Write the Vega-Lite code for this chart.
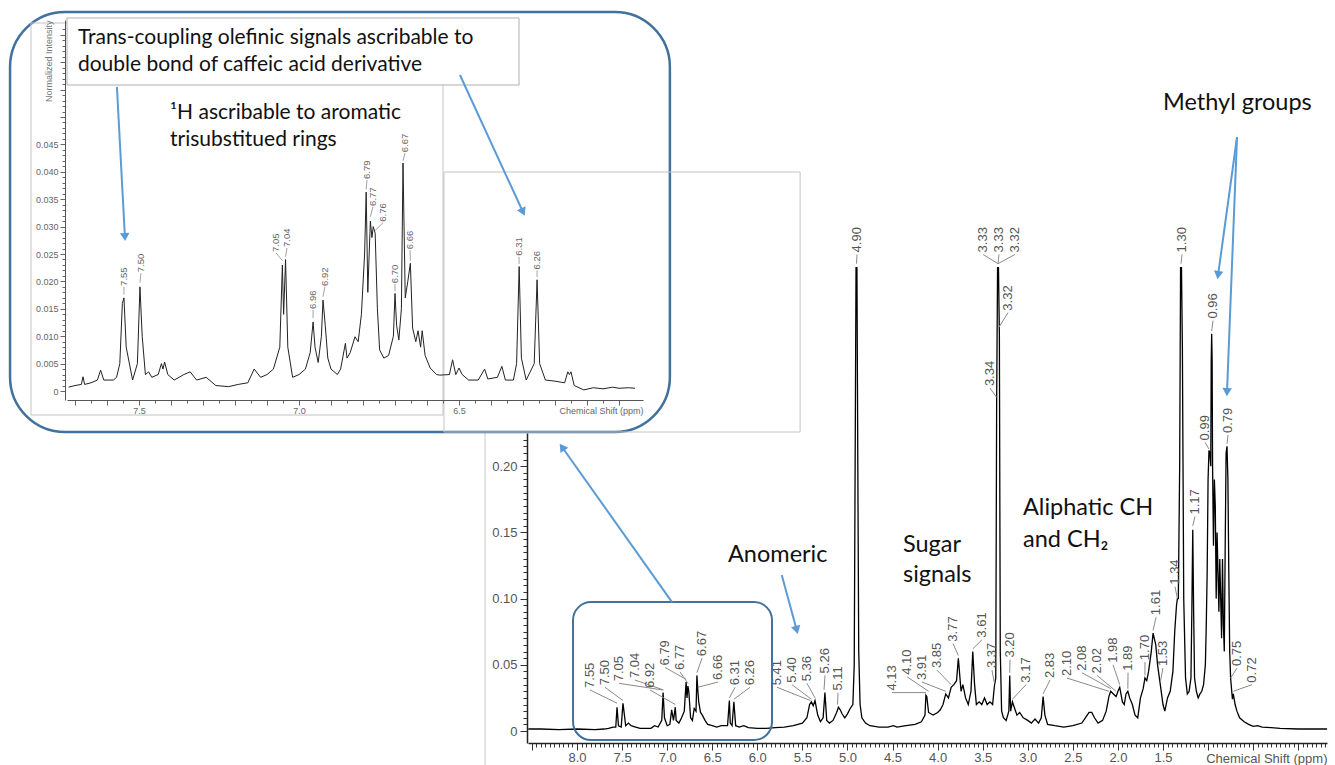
{
"$schema": "https://vega.github.io/schema/vega-lite/v6.json",
"width": 1335, "height": 765, "autosize": {"type": "none"}, "padding": 0, "background": "white",
"config": {"view": {"stroke": null}, "axis": {"grid": false, "labelFont": "Liberation Sans", "titleFont": "Liberation Sans", "labelOverlap": false, "labelFlush": false, "labelBound": false}},
"datasets": {
"main": [
{"ppm":-0.32,"i":0.0015},{"ppm":0.0,"i":0.0015},{"ppm":0.2,"i":0.002},{"ppm":0.3,"i":0.0025},{"ppm":0.4,"i":0.003},{"ppm":0.45,"i":0.004},{"ppm":0.5,"i":0.0035},{"ppm":0.55,"i":0.005},{"ppm":0.6,"i":0.007},{"ppm":0.65,"i":0.01},{"ppm":0.68,"i":0.015},{"ppm":0.7,"i":0.02},{"ppm":0.72,"i":0.028},{"ppm":0.73,"i":0.024},{"ppm":0.75,"i":0.04},{"ppm":0.76,"i":0.06},{"ppm":0.77,"i":0.12},{"ppm":0.78,"i":0.19},{"ppm":0.79,"i":0.215},{"ppm":0.8,"i":0.21},{"ppm":0.81,"i":0.14},{"ppm":0.82,"i":0.06},{"ppm":0.83,"i":0.08},{"ppm":0.84,"i":0.13},{"ppm":0.85,"i":0.07},{"ppm":0.86,"i":0.1},{"ppm":0.87,"i":0.13},{"ppm":0.88,"i":0.09},{"ppm":0.89,"i":0.12},{"ppm":0.9,"i":0.15},{"ppm":0.91,"i":0.1},{"ppm":0.92,"i":0.17},{"ppm":0.93,"i":0.19},{"ppm":0.94,"i":0.14},{"ppm":0.95,"i":0.2},{"ppm":0.955,"i":0.28},{"ppm":0.96,"i":0.3},{"ppm":0.965,"i":0.28},{"ppm":0.97,"i":0.2},{"ppm":0.98,"i":0.21},{"ppm":0.99,"i":0.212},{"ppm":1.0,"i":0.19},{"ppm":1.01,"i":0.12},{"ppm":1.02,"i":0.08},{"ppm":1.03,"i":0.05},{"ppm":1.05,"i":0.035},{"ppm":1.07,"i":0.03},{"ppm":1.09,"i":0.028},{"ppm":1.11,"i":0.025},{"ppm":1.13,"i":0.03},{"ppm":1.15,"i":0.04},{"ppm":1.16,"i":0.09},{"ppm":1.17,"i":0.152},{"ppm":1.18,"i":0.09},{"ppm":1.19,"i":0.04},{"ppm":1.21,"i":0.03},{"ppm":1.23,"i":0.028},{"ppm":1.25,"i":0.04},{"ppm":1.27,"i":0.1},{"ppm":1.285,"i":0.29},{"ppm":1.295,"i":0.35},{"ppm":1.305,"i":0.35},{"ppm":1.315,"i":0.2},{"ppm":1.33,"i":0.1},{"ppm":1.34,"i":0.1},{"ppm":1.35,"i":0.095},{"ppm":1.37,"i":0.075},{"ppm":1.39,"i":0.045},{"ppm":1.42,"i":0.03},{"ppm":1.45,"i":0.025},{"ppm":1.48,"i":0.015},{"ppm":1.5,"i":0.02},{"ppm":1.53,"i":0.035},{"ppm":1.56,"i":0.05},{"ppm":1.58,"i":0.065},{"ppm":1.61,"i":0.074},{"ppm":1.63,"i":0.06},{"ppm":1.66,"i":0.045},{"ppm":1.68,"i":0.038},{"ppm":1.7,"i":0.04},{"ppm":1.72,"i":0.032},{"ppm":1.75,"i":0.025},{"ppm":1.78,"i":0.01},{"ppm":1.81,"i":0.012},{"ppm":1.84,"i":0.02},{"ppm":1.87,"i":0.025},{"ppm":1.89,"i":0.03},{"ppm":1.91,"i":0.028},{"ppm":1.93,"i":0.02},{"ppm":1.95,"i":0.022},{"ppm":1.98,"i":0.033},{"ppm":2.0,"i":0.03},{"ppm":2.02,"i":0.026},{"ppm":2.05,"i":0.028},{"ppm":2.08,"i":0.03},{"ppm":2.1,"i":0.026},{"ppm":2.13,"i":0.015},{"ppm":2.17,"i":0.008},{"ppm":2.22,"i":0.006},{"ppm":2.26,"i":0.01},{"ppm":2.29,"i":0.014},{"ppm":2.32,"i":0.014},{"ppm":2.35,"i":0.011},{"ppm":2.4,"i":0.006},{"ppm":2.5,"i":0.004},{"ppm":2.6,"i":0.003},{"ppm":2.7,"i":0.004},{"ppm":2.78,"i":0.005},{"ppm":2.81,"i":0.012},{"ppm":2.83,"i":0.026},{"ppm":2.85,"i":0.01},{"ppm":2.88,"i":0.006},{"ppm":2.92,"i":0.009},{"ppm":2.96,"i":0.006},{"ppm":3.0,"i":0.008},{"ppm":3.05,"i":0.01},{"ppm":3.09,"i":0.014},{"ppm":3.12,"i":0.012},{"ppm":3.15,"i":0.018},{"ppm":3.17,"i":0.022},{"ppm":3.19,"i":0.015},{"ppm":3.2,"i":0.042},{"ppm":3.21,"i":0.015},{"ppm":3.24,"i":0.008},{"ppm":3.27,"i":0.01},{"ppm":3.29,"i":0.015},{"ppm":3.305,"i":0.06},{"ppm":3.315,"i":0.3},{"ppm":3.325,"i":0.35},{"ppm":3.335,"i":0.35},{"ppm":3.345,"i":0.25},{"ppm":3.355,"i":0.04},{"ppm":3.37,"i":0.034},{"ppm":3.39,"i":0.02},{"ppm":3.42,"i":0.022},{"ppm":3.45,"i":0.02},{"ppm":3.48,"i":0.025},{"ppm":3.51,"i":0.02},{"ppm":3.54,"i":0.022},{"ppm":3.57,"i":0.02},{"ppm":3.59,"i":0.035},{"ppm":3.61,"i":0.06},{"ppm":3.63,"i":0.03},{"ppm":3.66,"i":0.02},{"ppm":3.69,"i":0.025},{"ppm":3.72,"i":0.035},{"ppm":3.74,"i":0.03},{"ppm":3.77,"i":0.055},{"ppm":3.79,"i":0.038},{"ppm":3.82,"i":0.035},{"ppm":3.85,"i":0.033},{"ppm":3.88,"i":0.025},{"ppm":3.91,"i":0.028},{"ppm":3.94,"i":0.02},{"ppm":3.97,"i":0.016},{"ppm":4.0,"i":0.014},{"ppm":4.05,"i":0.012},{"ppm":4.1,"i":0.014},{"ppm":4.12,"i":0.026},{"ppm":4.13,"i":0.027},{"ppm":4.14,"i":0.012},{"ppm":4.18,"i":0.007},{"ppm":4.25,"i":0.005},{"ppm":4.35,"i":0.004},{"ppm":4.45,"i":0.003},{"ppm":4.49,"i":0.004},{"ppm":4.55,"i":0.003},{"ppm":4.65,"i":0.003},{"ppm":4.75,"i":0.004},{"ppm":4.8,"i":0.006},{"ppm":4.84,"i":0.01},{"ppm":4.86,"i":0.02},{"ppm":4.875,"i":0.06},{"ppm":4.885,"i":0.2},{"ppm":4.895,"i":0.35},{"ppm":4.905,"i":0.35},{"ppm":4.915,"i":0.2},{"ppm":4.925,"i":0.05},{"ppm":4.94,"i":0.02},{"ppm":4.97,"i":0.017},{"ppm":5.0,"i":0.013},{"ppm":5.03,"i":0.01},{"ppm":5.06,"i":0.013},{"ppm":5.08,"i":0.016},{"ppm":5.1,"i":0.018},{"ppm":5.12,"i":0.014},{"ppm":5.16,"i":0.008},{"ppm":5.2,"i":0.006},{"ppm":5.23,"i":0.008},{"ppm":5.25,"i":0.029},{"ppm":5.27,"i":0.01},{"ppm":5.3,"i":0.007},{"ppm":5.33,"i":0.012},{"ppm":5.36,"i":0.023},{"ppm":5.38,"i":0.019},{"ppm":5.4,"i":0.022},{"ppm":5.42,"i":0.02},{"ppm":5.45,"i":0.01},{"ppm":5.5,"i":0.006},{"ppm":5.55,"i":0.005},{"ppm":5.6,"i":0.004},{"ppm":5.7,"i":0.003},{"ppm":5.8,"i":0.0025},{"ppm":5.9,"i":0.002},{"ppm":6.0,"i":0.002},{"ppm":6.1,"i":0.0025},{"ppm":6.15,"i":0.004},{"ppm":6.2,"i":0.003},{"ppm":6.24,"i":0.004},{"ppm":6.26,"i":0.022},{"ppm":6.28,"i":0.004},{"ppm":6.3,"i":0.006},{"ppm":6.31,"i":0.023},{"ppm":6.33,"i":0.004},{"ppm":6.4,"i":0.004},{"ppm":6.45,"i":0.003},{"ppm":6.5,"i":0.004},{"ppm":6.55,"i":0.005},{"ppm":6.58,"i":0.008},{"ppm":6.61,"i":0.012},{"ppm":6.63,"i":0.014},{"ppm":6.65,"i":0.022},{"ppm":6.66,"i":0.031},{"ppm":6.67,"i":0.042},{"ppm":6.68,"i":0.015},{"ppm":6.7,"i":0.017},{"ppm":6.72,"i":0.008},{"ppm":6.74,"i":0.01},{"ppm":6.76,"i":0.03},{"ppm":6.77,"i":0.034},{"ppm":6.78,"i":0.025},{"ppm":6.79,"i":0.037},{"ppm":6.81,"i":0.015},{"ppm":6.84,"i":0.01},{"ppm":6.87,"i":0.006},{"ppm":6.9,"i":0.008},{"ppm":6.91,"i":0.018},{"ppm":6.93,"i":0.008},{"ppm":6.95,"i":0.016},{"ppm":6.97,"i":0.005},{"ppm":7.0,"i":0.004},{"ppm":7.03,"i":0.01},{"ppm":7.045,"i":0.029},{"ppm":7.06,"i":0.008},{"ppm":7.1,"i":0.003},{"ppm":7.14,"i":0.004},{"ppm":7.18,"i":0.002},{"ppm":7.25,"i":0.002},{"ppm":7.3,"i":0.002},{"ppm":7.35,"i":0.003},{"ppm":7.4,"i":0.004},{"ppm":7.43,"i":0.006},{"ppm":7.46,"i":0.004},{"ppm":7.49,"i":0.021},{"ppm":7.51,"i":0.003},{"ppm":7.54,"i":0.004},{"ppm":7.556,"i":0.018},{"ppm":7.57,"i":0.003},{"ppm":7.6,"i":0.003},{"ppm":7.65,"i":0.002},{"ppm":7.7,"i":0.0015},{"ppm":7.8,"i":0.001},{"ppm":8.0,"i":0.0015},{"ppm":8.2,"i":0.001},{"ppm":8.4,"i":0.0015},{"ppm":8.54,"i":0.0015}
],
"inset": [
{"ppm":7.72,"i":0.0007},{"ppm":7.7,"i":0.001},{"ppm":7.68,"i":0.0012},{"ppm":7.675,"i":0.0026},{"ppm":7.67,"i":0.0012},{"ppm":7.65,"i":0.0015},{"ppm":7.63,"i":0.002},{"ppm":7.62,"i":0.0038},{"ppm":7.61,"i":0.002},{"ppm":7.58,"i":0.002},{"ppm":7.57,"i":0.0025},{"ppm":7.56,"i":0.005},{"ppm":7.552,"i":0.016},{"ppm":7.547,"i":0.017},{"ppm":7.54,"i":0.008},{"ppm":7.52,"i":0.002},{"ppm":7.505,"i":0.005},{"ppm":7.497,"i":0.019},{"ppm":7.49,"i":0.01},{"ppm":7.48,"i":0.003},{"ppm":7.47,"i":0.0035},{"ppm":7.46,"i":0.0025},{"ppm":7.44,"i":0.003},{"ppm":7.43,"i":0.005},{"ppm":7.425,"i":0.004},{"ppm":7.42,"i":0.0053},{"ppm":7.41,"i":0.003},{"ppm":7.39,"i":0.002},{"ppm":7.36,"i":0.003},{"ppm":7.34,"i":0.0035},{"ppm":7.32,"i":0.002},{"ppm":7.29,"i":0.0025},{"ppm":7.26,"i":0.001},{"ppm":7.22,"i":0.0008},{"ppm":7.19,"i":0.0012},{"ppm":7.16,"i":0.0015},{"ppm":7.14,"i":0.004},{"ppm":7.12,"i":0.0025},{"ppm":7.1,"i":0.003},{"ppm":7.08,"i":0.004},{"ppm":7.06,"i":0.008},{"ppm":7.052,"i":0.023},{"ppm":7.048,"i":0.014},{"ppm":7.042,"i":0.024},{"ppm":7.035,"i":0.008},{"ppm":7.02,"i":0.0025},{"ppm":7.0,"i":0.003},{"ppm":6.98,"i":0.004},{"ppm":6.965,"i":0.007},{"ppm":6.956,"i":0.0126},{"ppm":6.95,"i":0.008},{"ppm":6.94,"i":0.0052},{"ppm":6.93,"i":0.01},{"ppm":6.925,"i":0.0166},{"ppm":6.918,"i":0.012},{"ppm":6.91,"i":0.006},{"ppm":6.9,"i":0.004},{"ppm":6.88,"i":0.003},{"ppm":6.87,"i":0.004},{"ppm":6.855,"i":0.0087},{"ppm":6.85,"i":0.006},{"ppm":6.84,"i":0.007},{"ppm":6.825,"i":0.0099},{"ppm":6.815,"i":0.009},{"ppm":6.805,"i":0.014},{"ppm":6.795,"i":0.025},{"ppm":6.79,"i":0.0363},{"ppm":6.785,"i":0.018},{"ppm":6.777,"i":0.031},{"ppm":6.772,"i":0.028},{"ppm":6.768,"i":0.03},{"ppm":6.762,"i":0.0288},{"ppm":6.755,"i":0.015},{"ppm":6.748,"i":0.0075},{"ppm":6.735,"i":0.006},{"ppm":6.72,"i":0.0065},{"ppm":6.705,"i":0.01},{"ppm":6.7,"i":0.0178},{"ppm":6.695,"i":0.012},{"ppm":6.688,"i":0.0093},{"ppm":6.68,"i":0.015},{"ppm":6.675,"i":0.0416},{"ppm":6.668,"i":0.017},{"ppm":6.66,"i":0.02},{"ppm":6.652,"i":0.0233},{"ppm":6.645,"i":0.0115},{"ppm":6.635,"i":0.009},{"ppm":6.628,"i":0.011},{"ppm":6.62,"i":0.008},{"ppm":6.615,"i":0.011},{"ppm":6.606,"i":0.0065},{"ppm":6.59,"i":0.0042},{"ppm":6.57,"i":0.003},{"ppm":6.56,"i":0.0029},{"ppm":6.53,"i":0.003},{"ppm":6.52,"i":0.0057},{"ppm":6.51,"i":0.003},{"ppm":6.5,"i":0.0042},{"ppm":6.49,"i":0.003},{"ppm":6.47,"i":0.002},{"ppm":6.44,"i":0.002},{"ppm":6.42,"i":0.004},{"ppm":6.41,"i":0.0022},{"ppm":6.38,"i":0.0025},{"ppm":6.366,"i":0.0045},{"ppm":6.355,"i":0.002},{"ppm":6.33,"i":0.002},{"ppm":6.32,"i":0.005},{"ppm":6.312,"i":0.0227},{"ppm":6.305,"i":0.006},{"ppm":6.29,"i":0.002},{"ppm":6.265,"i":0.005},{"ppm":6.256,"i":0.0203},{"ppm":6.248,"i":0.005},{"ppm":6.23,"i":0.002},{"ppm":6.2,"i":0.0018},{"ppm":6.17,"i":0.0015},{"ppm":6.16,"i":0.0035},{"ppm":6.155,"i":0.003},{"ppm":6.15,"i":0.0035},{"ppm":6.14,"i":0.001},{"ppm":6.11,"i":0.0002},{"ppm":6.08,"i":0.0006},{"ppm":6.05,"i":0.0004},{"ppm":6.02,"i":0.0007},{"ppm":6.0,"i":0.0005},{"ppm":5.97,"i":0.0006},{"ppm":5.95,"i":0.0005}
],
"mlab": [
{"t":"7.55","lx":7.856,"ly":0.031,"px":7.556,"py":0.021},
{"t":"7.50","lx":7.689,"ly":0.033,"px":7.49,"py":0.023},
{"t":"7.05","lx":7.534,"ly":0.036,"px":7.05,"py":0.031},
{"t":"7.04","lx":7.357,"ly":0.0385,"px":7.04,"py":0.031},
{"t":"6.92","lx":7.19,"ly":0.031,"px":6.91,"py":0.02},
{"t":"6.79","lx":7.024,"ly":0.048,"px":6.79,"py":0.039},
{"t":"6.77","lx":6.857,"ly":0.0446,"px":6.77,"py":0.036},
{"t":"6.67","lx":6.613,"ly":0.055,"px":6.67,"py":0.044},
{"t":"6.66","lx":6.436,"ly":0.037,"px":6.66,"py":0.033},
{"t":"6.31","lx":6.247,"ly":0.033,"px":6.31,"py":0.025},
{"t":"6.26","lx":6.081,"ly":0.033,"px":6.26,"py":0.024},
{"t":"5.41","lx":5.781,"ly":0.033,"px":5.41,"py":0.023},
{"t":"5.40","lx":5.615,"ly":0.035,"px":5.4,"py":0.024},
{"t":"5.36","lx":5.449,"ly":0.036,"px":5.36,"py":0.025},
{"t":"5.26","lx":5.249,"ly":0.042,"px":5.26,"py":0.031},
{"t":"5.11","lx":5.105,"ly":0.029,"px":5.11,"py":0.02},
{"t":"4.13","lx":4.506,"ly":0.029,"px":4.13,"py":0.029},
{"t":"4.10","lx":4.34,"ly":0.041,"px":4.1,"py":0.03},
{"t":"3.91","lx":4.173,"ly":0.037,"px":3.91,"py":0.03},
{"t":"3.85","lx":4.007,"ly":0.046,"px":3.85,"py":0.035},
{"t":"3.77","lx":3.829,"ly":0.066,"px":3.77,"py":0.057},
{"t":"3.61","lx":3.507,"ly":0.069,"px":3.61,"py":0.062},
{"t":"3.37","lx":3.397,"ly":0.046,"px":3.37,"py":0.036},
{"t":"3.20","lx":3.197,"ly":0.054,"px":3.2,"py":0.044},
{"t":"3.17","lx":3.02,"ly":0.035,"px":3.17,"py":0.024},
{"t":"2.83","lx":2.753,"ly":0.0385,"px":2.83,"py":0.028},
{"t":"2.10","lx":2.565,"ly":0.04,"px":2.1,"py":0.03},
{"t":"2.08","lx":2.398,"ly":0.044,"px":2.08,"py":0.032},
{"t":"2.02","lx":2.232,"ly":0.042,"px":2.02,"py":0.03},
{"t":"1.98","lx":2.054,"ly":0.05,"px":1.98,"py":0.035},
{"t":"1.89","lx":1.888,"ly":0.044,"px":1.89,"py":0.032},
{"t":"1.70","lx":1.7,"ly":0.052,"px":1.7,"py":0.042},
{"t":"1.61","lx":1.577,"ly":0.086,"px":1.61,"py":0.076},
{"t":"1.53","lx":1.5,"ly":0.0476,"px":1.53,"py":0.037},
{"t":"1.34","lx":1.367,"ly":0.109,"px":1.34,"py":0.1},
{"t":"1.17","lx":1.145,"ly":0.162,"px":1.17,"py":0.155},
{"t":"0.99","lx":1.034,"ly":0.218,"px":0.99,"py":0.213},
{"t":"0.96","lx":0.945,"ly":0.31,"px":0.96,"py":0.302},
{"t":"0.79","lx":0.779,"ly":0.2236,"px":0.79,"py":0.217},
{"t":"0.75","lx":0.679,"ly":0.0476,"px":0.75,"py":0.04},
{"t":"0.72","lx":0.5125,"ly":0.035,"px":0.72,"py":0.03},
{"t":"4.90","lx":4.894,"ly":0.36,"px":4.9,"py":0.353},
{"t":"3.33","lx":3.496,"ly":0.36,"px":3.33,"py":0.353},
{"t":"3.33","lx":3.319,"ly":0.36,"px":3.33,"py":0.353},
{"t":"3.32","lx":3.141,"ly":0.36,"px":3.33,"py":0.353},
{"t":"3.32","lx":3.219,"ly":0.316,"px":3.32,"py":0.305},
{"t":"3.34","lx":3.419,"ly":0.259,"px":3.345,"py":0.252},
{"t":"1.30","lx":1.289,"ly":0.36,"px":1.3,"py":0.353}
],
"ilab": [
{"t":"7.55","lx":7.547,"ly":0.019,"px":7.547,"py":0.0176},
{"t":"7.50","lx":7.494,"ly":0.0215,"px":7.497,"py":0.0198},
{"t":"7.05","lx":7.072,"ly":0.0252,"px":7.052,"py":0.0238},
{"t":"7.04","lx":7.0375,"ly":0.0261,"px":7.042,"py":0.0245},
{"t":"6.96","lx":6.956,"ly":0.0148,"px":6.956,"py":0.0133},
{"t":"6.92","lx":6.919,"ly":0.019,"px":6.925,"py":0.0172},
{"t":"6.79","lx":6.7875,"ly":0.0385,"px":6.79,"py":0.0368},
{"t":"6.77","lx":6.769,"ly":0.0336,"px":6.777,"py":0.0318},
{"t":"6.76","lx":6.7375,"ly":0.0307,"px":6.762,"py":0.0293},
{"t":"6.70","lx":6.7,"ly":0.0195,"px":6.7,"py":0.0182},
{"t":"6.67","lx":6.669,"ly":0.0434,"px":6.675,"py":0.042},
{"t":"6.66","lx":6.653,"ly":0.0257,"px":6.652,"py":0.0238},
{"t":"6.31","lx":6.3125,"ly":0.0245,"px":6.312,"py":0.0232},
{"t":"6.26","lx":6.256,"ly":0.022,"px":6.256,"py":0.0208}
],
"mtext": [
{"t":"Anomeric","x":6.325,"y":0.1329},
{"t":"Sugar","x":4.384,"y":0.1405},
{"t":"signals","x":4.384,"y":0.1178},
{"t":"Aliphatic CH","x":3.053,"y":0.1684},
{"t":"and CH₂","x":3.053,"y":0.1443},
{"t":"Methyl groups","x":1.5,"y":0.4743}
],
"itext": [
{"t":"Trans-coupling olefinic signals ascribable to","x":7.691,"y":0.06442},
{"t":"double bond of caffeic acid derivative","x":7.691,"y":0.05949},
{"t":"¹H ascribable to aromatic","x":7.403,"y":0.05073},
{"t":"trisubstitued rings","x":7.403,"y":0.0458}
],
"marrow": [
{"id":"a1","x1":6.946,"y1":0.0974,"x2":8.166,"y2":0.2145},
{"id":"a2","x1":5.729,"y1":0.1178,"x2":5.563,"y2":0.0763},
{"id":"a3","x1":0.679,"y1":0.4486,"x2":0.889,"y2":0.3444},
{"id":"a4","x1":0.679,"y1":0.4486,"x2":0.79,"y2":0.256}
],
"iarrow": [
{"id":"b1","x1":7.569,"y1":0.05547,"x2":7.544,"y2":0.0281},
{"id":"b2","x1":6.497,"y1":0.05766,"x2":6.3,"y2":0.03266}
],
"ibox": [
{"k":"round","x1":7.903,"x2":5.841,"y1":0.06916,"y2":-0.00748},
{"k":"frame","x1":7.8375,"x2":6.55,"y1":0.06715,"y2":-0.00438},
{"k":"frame","x1":6.547,"x2":5.434,"y1":0.03996,"y2":-0.00748},
{"k":"tbox","x1":7.725,"x2":6.3125,"y1":0.06807,"y2":0.05584}
],
"mbox": [{"x1":8.044,"x2":5.837,"y1":0.0974,"y2":-0.0068}],
"mframe": [{"x":9.02,"y1":0.2387,"y2":-0.03}]
},
"layer": [
{
"layer": [
{"data": {"name": "main"}, "mark": {"type": "line", "color": "#000", "strokeWidth": 1.3, "interpolate": "linear"},
 "encoding": {
  "x": {"field": "ppm", "type": "quantitative", "scale": {"domain": [8.5436, -0.3192], "range": [528, 1327], "nice": false, "zero": false},
   "axis": {"orient": "bottom", "offset": -22, "title": "Chemical Shift (ppm)", "titleAnchor": "end", "titleAlign": "right", "titleBaseline": "top", "titleY": 9, "titleFontSize": 13, "titleFontWeight": "normal", "titleColor": "#555",
    "tickCount": 1000,
    "values": [8.5,8.45,8.4,8.35,8.3,8.25,8.2,8.15,8.1,8.05,8,7.95,7.9,7.85,7.8,7.75,7.7,7.65,7.6,7.55,7.5,7.45,7.4,7.35,7.3,7.25,7.2,7.15,7.1,7.05,7,6.95,6.9,6.85,6.8,6.75,6.7,6.65,6.6,6.55,6.5,6.45,6.4,6.35,6.3,6.25,6.2,6.15,6.1,6.05,6,5.95,5.9,5.85,5.8,5.75,5.7,5.65,5.6,5.55,5.5,5.45,5.4,5.35,5.3,5.25,5.2,5.15,5.1,5.05,5,4.95,4.9,4.85,4.8,4.75,4.7,4.65,4.6,4.55,4.5,4.45,4.4,4.35,4.3,4.25,4.2,4.15,4.1,4.05,4,3.95,3.9,3.85,3.8,3.75,3.7,3.65,3.6,3.55,3.5,3.45,3.4,3.35,3.3,3.25,3.2,3.15,3.1,3.05,3,2.95,2.9,2.85,2.8,2.75,2.7,2.65,2.6,2.55,2.5,2.45,2.4,2.35,2.3,2.25,2.2,2.15,2.1,2.05,2,1.95,1.9,1.85,1.8,1.75,1.7,1.65,1.6,1.55,1.5,1.45,1.4,1.35,1.3,1.25,1.2,1.15,1.1,1.05,1,0.95,0.9,0.85,0.8,0.75,0.7,0.65,0.6,0.55,0.5,0.45,0.4,0.35,0.3,0.25,0.2,0.15,0.1,0.05,0,-0.05,-0.1,-0.15,-0.2,-0.25,-0.3],
    "labelExpr": "abs(datum.value*2-round(datum.value*2))<0.001 && datum.value>1.4 && datum.value<8.2 ? format(datum.value,'.1f') : ''",
    "tickSize": {"condition": {"test": "abs(datum.value*2-round(datum.value*2))<0.001", "value": 7}, "value": 4},
    "labelFontSize": 13, "labelColor": "#555", "labelPadding": 1, "labelOverlap": false,
    "domainColor": "#222", "domainWidth": 1.5, "tickColor": "#333"}},
  "y": {"field": "i", "type": "quantitative", "scale": {"domain": [-0.00906, 0.2251], "range": [743, 433], "nice": false, "zero": false},
   "axis": {"orient": "left", "offset": -527, "title": null, "tickCount": 1000,
    "values": [0,0.005,0.01,0.015,0.02,0.025,0.03,0.035,0.04,0.045,0.05,0.055,0.06,0.065,0.07,0.075,0.08,0.085,0.09,0.095,0.1,0.105,0.11,0.115,0.12,0.125,0.13,0.135,0.14,0.145,0.15,0.155,0.16,0.165,0.17,0.175,0.18,0.185,0.19,0.195,0.2,0.205,0.21,0.215,0.22],
    "labelExpr": "abs(datum.value*20-round(datum.value*20))<0.001 ? (datum.value==0 ? '0' : format(datum.value,'.2f')) : ''",
    "tickSize": {"condition": {"test": "abs(datum.value*20-round(datum.value*20))<0.001", "value": 7}, "value": 4},
    "labelFontSize": 13, "labelColor": "#555", "labelPadding": 3, "labelOverlap": false,
    "domainColor": "#222", "domainWidth": 1.5, "tickColor": "#333"}}}},
{"data": {"name": "mframe"}, "mark": {"type": "rule", "color": "#c8c8c8", "strokeWidth": 1},
 "encoding": {"x": {"field": "x", "type": "quantitative", "scale": {"domain": [8.5436, -0.3192], "range": [528, 1327], "nice": false, "zero": false}},
  "y": {"field": "y1", "type": "quantitative", "scale": {"domain": [-0.00906, 0.2251], "range": [743, 433], "nice": false, "zero": false}}, "y2": {"field": "y2"}}},
{"data": {"name": "mlab"}, "mark": {"type": "rule", "color": "#8a8a8a", "strokeWidth": 1},
 "encoding": {"x": {"field": "lx", "type": "quantitative", "scale": {"domain": [8.5436, -0.3192], "range": [528, 1327], "nice": false, "zero": false}},
  "y": {"field": "ly", "type": "quantitative", "scale": {"domain": [-0.00906, 0.2251], "range": [743, 433], "nice": false, "zero": false}},
  "x2": {"field": "px"}, "y2": {"field": "py"}}},
{"data": {"name": "mlab"}, "mark": {"type": "text", "angle": 270, "align": "left", "baseline": "middle", "dx": 2, "font": "Liberation Sans", "fontSize": 13, "color": "#555"},
 "encoding": {"x": {"field": "lx", "type": "quantitative", "scale": {"domain": [8.5436, -0.3192], "range": [528, 1327], "nice": false, "zero": false}},
  "y": {"field": "ly", "type": "quantitative", "scale": {"domain": [-0.00906, 0.2251], "range": [743, 433], "nice": false, "zero": false}},
  "text": {"field": "t", "type": "nominal"}}},
{"data": {"name": "mbox"}, "mark": {"type": "rect", "fillOpacity": 0, "stroke": "#41719C", "strokeWidth": 2, "cornerRadius": 18},
 "encoding": {"x": {"field": "x1", "type": "quantitative", "scale": {"domain": [8.5436, -0.3192], "range": [528, 1327], "nice": false, "zero": false}}, "x2": {"field": "x2"},
  "y": {"field": "y1", "type": "quantitative", "scale": {"domain": [-0.00906, 0.2251], "range": [743, 433], "nice": false, "zero": false}}, "y2": {"field": "y2"}}},
{"data": {"name": "mtext"}, "mark": {"type": "text", "align": "left", "baseline": "middle", "font": "Lato, DejaVu Sans", "fontSize": 23.5, "color": "#111"},
 "encoding": {"x": {"field": "x", "type": "quantitative", "scale": {"domain": [8.5436, -0.3192], "range": [528, 1327], "nice": false, "zero": false}},
  "y": {"field": "y", "type": "quantitative", "scale": {"domain": [-0.00906, 0.2251], "range": [743, 433], "nice": false, "zero": false}},
  "text": {"field": "t", "type": "nominal"}}},
{"data": {"name": "marrow"}, "mark": {"type": "rule", "color": "#5B9BD5", "strokeWidth": 2},
 "encoding": {"x": {"field": "x1", "type": "quantitative", "scale": {"domain": [8.5436, -0.3192], "range": [528, 1327], "nice": false, "zero": false}}, "x2": {"field": "x2"},
  "y": {"field": "y1", "type": "quantitative", "scale": {"domain": [-0.00906, 0.2251], "range": [743, 433], "nice": false, "zero": false}}, "y2": {"field": "y2"}}},
{"data": {"name": "marrow"}, "transform": [{"filter": "datum.id=='a1'"}], "mark": {"type": "point", "shape": "triangle-up", "filled": true, "color": "#5B9BD5", "size": 90, "angle": -35, "opacity": 1},
 "encoding": {"x": {"field": "x2", "type": "quantitative", "scale": {"domain": [8.5436, -0.3192], "range": [528, 1327], "nice": false, "zero": false}},
  "y": {"field": "y2", "type": "quantitative", "scale": {"domain": [-0.00906, 0.2251], "range": [743, 433], "nice": false, "zero": false}}}},
{"data": {"name": "marrow"}, "transform": [{"filter": "datum.id=='a2'"}], "mark": {"type": "point", "shape": "triangle-up", "filled": true, "color": "#5B9BD5", "size": 90, "angle": 165, "opacity": 1},
 "encoding": {"x": {"field": "x2", "type": "quantitative", "scale": {"domain": [8.5436, -0.3192], "range": [528, 1327], "nice": false, "zero": false}},
  "y": {"field": "y2", "type": "quantitative", "scale": {"domain": [-0.00906, 0.2251], "range": [743, 433], "nice": false, "zero": false}}}},
{"data": {"name": "marrow"}, "transform": [{"filter": "datum.id=='a3'"}], "mark": {"type": "point", "shape": "triangle-up", "filled": true, "color": "#5B9BD5", "size": 90, "angle": 188, "opacity": 1},
 "encoding": {"x": {"field": "x2", "type": "quantitative", "scale": {"domain": [8.5436, -0.3192], "range": [528, 1327], "nice": false, "zero": false}},
  "y": {"field": "y2", "type": "quantitative", "scale": {"domain": [-0.00906, 0.2251], "range": [743, 433], "nice": false, "zero": false}}}},
{"data": {"name": "marrow"}, "transform": [{"filter": "datum.id=='a4'"}], "mark": {"type": "point", "shape": "triangle-up", "filled": true, "color": "#5B9BD5", "size": 90, "angle": 182, "opacity": 1},
 "encoding": {"x": {"field": "x2", "type": "quantitative", "scale": {"domain": [8.5436, -0.3192], "range": [528, 1327], "nice": false, "zero": false}},
  "y": {"field": "y2", "type": "quantitative", "scale": {"domain": [-0.00906, 0.2251], "range": [743, 433], "nice": false, "zero": false}}}}
]
},
{
"layer": [
{"data": {"name": "ibox"}, "transform": [{"filter": "datum.k=='round'"}], "mark": {"type": "rect", "fill": "white", "stroke": "#41719C", "strokeWidth": 2.5, "cornerRadius": 55},
 "encoding": {"x": {"field": "x1", "type": "quantitative", "scale": {"domain": [7.725, 5.925], "range": [67, 643], "nice": false, "zero": false}}, "x2": {"field": "x2"},
  "y": {"field": "y1", "type": "quantitative", "scale": {"domain": [-0.00164, 0.0677], "range": [400, 20], "nice": false, "zero": false}}, "y2": {"field": "y2"}}},
{"data": {"name": "ibox"}, "transform": [{"filter": "datum.k=='frame'"}], "mark": {"type": "rect", "fillOpacity": 0, "stroke": "#c4c4c4", "strokeWidth": 1},
 "encoding": {"x": {"field": "x1", "type": "quantitative", "scale": {"domain": [7.725, 5.925], "range": [67, 643], "nice": false, "zero": false}}, "x2": {"field": "x2"},
  "y": {"field": "y1", "type": "quantitative", "scale": {"domain": [-0.00164, 0.0677], "range": [400, 20], "nice": false, "zero": false}}, "y2": {"field": "y2"}}},
{"data": {"name": "inset"}, "mark": {"type": "line", "color": "#222", "strokeWidth": 1},
 "encoding": {
  "x": {"field": "ppm", "type": "quantitative", "scale": {"domain": [7.725, 5.925], "range": [67, 643], "nice": false, "zero": false},
   "axis": {"orient": "bottom", "offset": -365, "title": "Chemical Shift (ppm)", "titleAnchor": "end", "titleAlign": "right", "titleBaseline": "top", "titleY": 6, "titleFontSize": 9, "titleFontWeight": "normal", "titleColor": "#666",
    "tickCount": 1000,
    "values": [7.7,7.65,7.6,7.55,7.5,7.45,7.4,7.35,7.3,7.25,7.2,7.15,7.1,7.05,7,6.95,6.9,6.85,6.8,6.75,6.7,6.65,6.6,6.55,6.5,6.45,6.4,6.35,6.3,6.25,6.2,6.15,6.1,6.05,6],
    "labelExpr": "abs(datum.value*2-round(datum.value*2))<0.001 && datum.value>6.3 ? format(datum.value,'.1f') : ''",
    "tickSize": {"condition": {"test": "abs(datum.value*10-round(datum.value*10))<0.001", "value": 5}, "value": 3},
    "labelFontSize": 9, "labelColor": "#666", "labelPadding": 1, "labelOverlap": false,
    "domainColor": "#555", "domainWidth": 1, "tickColor": "#666", "zindex": 1}},
  "y": {"field": "i", "type": "quantitative", "scale": {"domain": [-0.00164, 0.0677], "range": [400, 20], "nice": false, "zero": false},
   "axis": {"orient": "left", "offset": -65, "title": "Normalized Intensity", "titleAngle": 270, "titleAlign": "right", "titleBaseline": "middle", "titleX": -17, "titleY": 20, "titleFontSize": 9, "titleFontWeight": "normal", "titleColor": "#777",
    "tickCount": 1000,
    "values": [0,0.001,0.002,0.003,0.004,0.005,0.006,0.007,0.008,0.009,0.01,0.011,0.012,0.013,0.014,0.015,0.016,0.017,0.018,0.019,0.02,0.021,0.022,0.023,0.024,0.025,0.026,0.027,0.028,0.029,0.03,0.031,0.032,0.033,0.034,0.035,0.036,0.037,0.038,0.039,0.04,0.041,0.042,0.043,0.044,0.045,0.046,0.047,0.048,0.049,0.05,0.051,0.052,0.053,0.054,0.055,0.056,0.057,0.058,0.059,0.06,0.061,0.062,0.063,0.064,0.065,0.066],
    "labelExpr": "abs(datum.value*200-round(datum.value*200))<0.001 && datum.value<0.046 ? (datum.value==0 ? '0' : format(datum.value,'.3f')) : ''",
    "tickSize": {"condition": {"test": "abs(datum.value*200-round(datum.value*200))<0.001", "value": 5}, "value": 3},
    "labelFontSize": 9, "labelColor": "#666", "labelPadding": 2, "labelOverlap": false,
    "domainColor": "#555", "domainWidth": 1, "tickColor": "#666", "zindex": 1}}}},
{"data": {"name": "ilab"}, "mark": {"type": "rule", "color": "#8a8a8a", "strokeWidth": 0.8},
 "encoding": {"x": {"field": "lx", "type": "quantitative", "scale": {"domain": [7.725, 5.925], "range": [67, 643], "nice": false, "zero": false}},
  "y": {"field": "ly", "type": "quantitative", "scale": {"domain": [-0.00164, 0.0677], "range": [400, 20], "nice": false, "zero": false}},
  "x2": {"field": "px"}, "y2": {"field": "py"}}},
{"data": {"name": "ilab"}, "mark": {"type": "text", "angle": 270, "align": "left", "baseline": "middle", "dx": 1, "font": "Liberation Sans", "fontSize": 9.5, "color": "#666"},
 "encoding": {"x": {"field": "lx", "type": "quantitative", "scale": {"domain": [7.725, 5.925], "range": [67, 643], "nice": false, "zero": false}},
  "y": {"field": "ly", "type": "quantitative", "scale": {"domain": [-0.00164, 0.0677], "range": [400, 20], "nice": false, "zero": false}},
  "text": {"field": "t", "type": "nominal"}}},
{"data": {"name": "ibox"}, "transform": [{"filter": "datum.k=='tbox'"}], "mark": {"type": "rect", "fill": "white", "stroke": "#b0b0b0", "strokeWidth": 1},
 "encoding": {"x": {"field": "x1", "type": "quantitative", "scale": {"domain": [7.725, 5.925], "range": [67, 643], "nice": false, "zero": false}}, "x2": {"field": "x2"},
  "y": {"field": "y1", "type": "quantitative", "scale": {"domain": [-0.00164, 0.0677], "range": [400, 20], "nice": false, "zero": false}}, "y2": {"field": "y2"}}},
{"data": {"name": "itext"}, "mark": {"type": "text", "align": "left", "baseline": "middle", "font": "Lato, DejaVu Sans", "fontSize": 21, "color": "#111"},
 "encoding": {"x": {"field": "x", "type": "quantitative", "scale": {"domain": [7.725, 5.925], "range": [67, 643], "nice": false, "zero": false}},
  "y": {"field": "y", "type": "quantitative", "scale": {"domain": [-0.00164, 0.0677], "range": [400, 20], "nice": false, "zero": false}},
  "text": {"field": "t", "type": "nominal"}}},
{"data": {"name": "iarrow"}, "mark": {"type": "rule", "color": "#5B9BD5", "strokeWidth": 2},
 "encoding": {"x": {"field": "x1", "type": "quantitative", "scale": {"domain": [7.725, 5.925], "range": [67, 643], "nice": false, "zero": false}}, "x2": {"field": "x2"},
  "y": {"field": "y1", "type": "quantitative", "scale": {"domain": [-0.00164, 0.0677], "range": [400, 20], "nice": false, "zero": false}}, "y2": {"field": "y2"}}},
{"data": {"name": "iarrow"}, "transform": [{"filter": "datum.id=='b1'"}], "mark": {"type": "point", "shape": "triangle-up", "filled": true, "color": "#5B9BD5", "size": 90, "angle": 177, "opacity": 1},
 "encoding": {"x": {"field": "x2", "type": "quantitative", "scale": {"domain": [7.725, 5.925], "range": [67, 643], "nice": false, "zero": false}},
  "y": {"field": "y2", "type": "quantitative", "scale": {"domain": [-0.00164, 0.0677], "range": [400, 20], "nice": false, "zero": false}}}},
{"data": {"name": "iarrow"}, "transform": [{"filter": "datum.id=='b2'"}], "mark": {"type": "point", "shape": "triangle-up", "filled": true, "color": "#5B9BD5", "size": 90, "angle": 155, "opacity": 1},
 "encoding": {"x": {"field": "x2", "type": "quantitative", "scale": {"domain": [7.725, 5.925], "range": [67, 643], "nice": false, "zero": false}},
  "y": {"field": "y2", "type": "quantitative", "scale": {"domain": [-0.00164, 0.0677], "range": [400, 20], "nice": false, "zero": false}}}}
]
}
],
"resolve": {"scale": {"x": "independent", "y": "independent"}, "axis": {"x": "independent", "y": "independent"}}
}
